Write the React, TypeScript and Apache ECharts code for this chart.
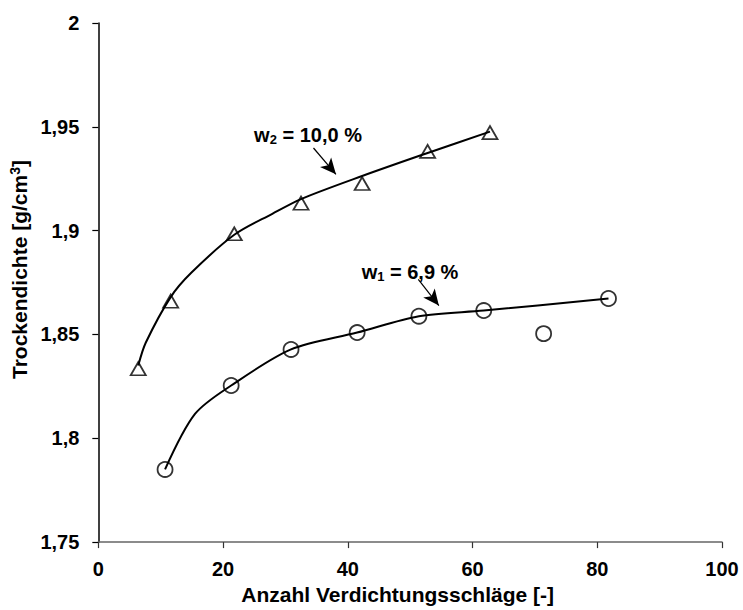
import React, { useEffect, useRef } from "react";
import * as echarts from "echarts";

// Measured points, w2 = 10,0 % (triangles)
const w2X = [6.4, 11.6, 21.8, 32.5, 42.3, 52.8, 62.8];
const w2Y = [1.8335, 1.866, 1.8985, 1.9132, 1.9227, 1.9382, 1.9472];
// Trend curve for w2
const w2FitX = [6.4, 7.6, 11.6, 14.9, 21.8, 27.9, 32.5, 42.3, 52.8, 62.8];
const w2FitY = [1.835, 1.846, 1.868, 1.8797, 1.898, 1.9081, 1.9152, 1.9263, 1.9374, 1.9477];

// Measured points, w1 = 6,9 % (circles)
const w1X = [10.7, 21.3, 30.9, 41.5, 51.4, 61.8, 71.4, 81.8];
const w1Y = [1.785, 1.8254, 1.8428, 1.8509, 1.8588, 1.8615, 1.8504, 1.8673];
// Curve for w1 (outlier at 71.4 not on curve)
const w1FitX = [10.7, 15.5, 21.3, 30.9, 41.5, 51.4, 61.8, 81.8];
const w1FitY = [1.785, 1.8117, 1.8254, 1.8428, 1.8509, 1.8588, 1.8615, 1.8673];

const xTicks = ["0", "20", "40", "60", "80", "100"];
const yTicks = ["1,75", "1,8", "1,85", "1,9", "1,95", "2"];

const FONT = "Liberation Sans, Arial, sans-serif";

export default function App() {
  const ref = useRef<HTMLDivElement>(null);
  useEffect(() => {
    document.body.style.margin = "0";
    const chart = echarts.init(ref.current!, undefined, { renderer: "svg" });
    const pair = (xs: number[], ys: number[]) => xs.map((x, i) => [x, ys[i]]);
    const annotStyle = (text: string, x: number, y: number) => ({
      type: "text",
      x,
      y,
      style: {
        text,
        fontFamily: FONT,
        fontWeight: "bold",
        fontSize: 20,
        fill: "#000",
        align: "center",
        verticalAlign: "middle",
        rich: {
          sub: {
            fontFamily: FONT,
            fontWeight: "bold",
            fontSize: 13,
            fill: "#000",
            padding: [9, 0, 0, 0],
          },
        },
      },
    });
    chart.setOption({
      animation: false,
      backgroundColor: "#ffffff",
      grid: { left: 93, right: 21, top: 23, bottom: 60, containLabel: false },
      xAxis: {
        type: "value",
        min: 0,
        max: 100,
        interval: 20,
        name: "Anzahl Verdichtungsschläge [-]",
        nameLocation: "middle",
        nameGap: 37,
        nameTextStyle: {
          fontFamily: FONT,
          fontWeight: "bold",
          fontSize: 21,
          color: "#000",
          padding: [0, 25, 0, 0],
        },
        axisLine: { show: true, lineStyle: { color: "#666", width: 1.5 } },
        axisTick: { show: true, length: 6, lineStyle: { color: "#333", width: 1.2 } },
        axisLabel: {
          margin: 17,
          fontFamily: FONT,
          fontWeight: "bold",
          fontSize: 20,
          color: "#000",
          formatter: (v: number) => xTicks[Math.round(v / 20)] ?? "",
        },
        splitLine: { show: false },
      },
      yAxis: {
        type: "value",
        min: 1.75,
        max: 2,
        interval: 0.05,
        name: "Trockendichte [g/cm{sup|3}]",
        nameLocation: "middle",
        nameGap: 62,
        nameRotate: 90,
        nameTextStyle: {
          fontFamily: FONT,
          fontWeight: "bold",
          fontSize: 21,
          color: "#000",
          padding: [0, 0, 0, 26],
          rich: {
            sup: {
              fontFamily: FONT,
              fontWeight: "bold",
              fontSize: 14,
              color: "#000",
              verticalAlign: "top",
              padding: [0, 0, 8, 0],
            },
          },
        },
        axisLine: { show: true, lineStyle: { color: "#000", width: 1.5 } },
        axisTick: { show: true, length: 6, lineStyle: { color: "#000", width: 1.2 } },
        axisLabel: {
          margin: 19,
          fontFamily: FONT,
          fontWeight: "bold",
          fontSize: 20,
          color: "#000",
          formatter: (v: number) => yTicks[Math.round((v - 1.75) / 0.05)] ?? "",
        },
        splitLine: { show: false },
      },
      graphic: [
        annotStyle("w{sub|2} = 10,0 %", 308, 135),
        annotStyle("w{sub|1} = 6,9 %", 410, 272),
      ],
      series: [
        {
          name: "w2 Kurve",
          type: "line",
          data: pair(w2FitX, w2FitY),
          smooth: 0.3,
          showSymbol: false,
          symbol: "none",
          lineStyle: { color: "#000", width: 2 },
          z: 2,
          markLine: {
            silent: true,
            symbol: ["none", "arrow"],
            symbolSize: [11, 16],
            label: { show: false },
            lineStyle: { color: "#000", width: 1.2, type: "solid" },
            data: [
              [{ coord: [34.5, 1.9398] }, { coord: [38.1, 1.9271] }],
              [{ coord: [51.3, 1.8765] }, { coord: [54.6, 1.8639] }],
            ],
          },
        },
        {
          name: "w1 Kurve",
          type: "line",
          data: pair(w1FitX, w1FitY),
          smooth: 0.3,
          showSymbol: false,
          symbol: "none",
          lineStyle: { color: "#000", width: 2 },
          z: 2,
        },
        {
          name: "w2 = 10,0 %",
          type: "scatter",
          data: pair(w2X, w2Y),
          symbol: "triangle",
          symbolSize: [15, 13],
          itemStyle: { color: "transparent", borderColor: "#000", borderWidth: 1.8 },
          z: 3,
        },
        {
          name: "w1 = 6,9 %",
          type: "scatter",
          data: pair(w1X, w1Y),
          symbol: "circle",
          symbolSize: 15,
          itemStyle: { color: "transparent", borderColor: "#000", borderWidth: 1.8 },
          z: 3,
        },
      ],
    });
    return () => chart.dispose();
  }, []);
  return <div ref={ref} style={{ width: 743, height: 610 }} />;
}
